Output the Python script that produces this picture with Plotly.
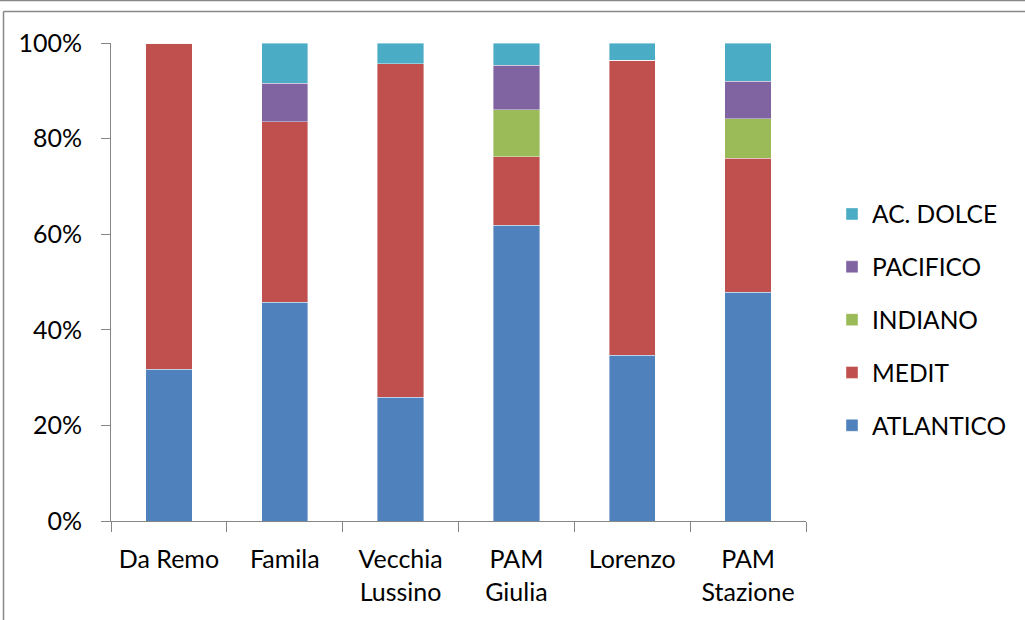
import plotly.graph_objects as go

categories = ["Da Remo", "Famila", "Vecchia<br>Lussino", "PAM<br>Giulia", "Lorenzo", "PAM<br>Stazione"]
atlantico = [31.8, 45.8, 25.9, 61.9, 34.7, 47.9]
medit = [68.2, 37.7, 69.8, 14.3, 61.7, 28.0]
indiano = [0, 0, 0, 9.8, 0, 8.3]
pacifico = [0, 8.1, 0, 9.3, 0, 7.8]
ac_dolce = [0, 8.4, 4.3, 4.7, 3.6, 8.0]

series = [
    ("ATLANTICO", atlantico, "#4F81BD"),
    ("MEDIT", medit, "#C0504D"),
    ("INDIANO", indiano, "#9BBB59"),
    ("PACIFICO", pacifico, "#8064A2"),
    ("AC. DOLCE", ac_dolce, "#4BACC6"),
]

W, H = 1025, 620
L, R, T, B = 111, 219, 43, 99
pw, ph = W - L - R, H - T - B

fig = go.Figure()
n = len(series)
for i, (name, vals, col) in enumerate(series):
    fig.add_trace(go.Bar(
        x=categories, y=vals, name=name,
        marker=dict(color=col, line=dict(width=0.8, color="rgba(255,255,255,0.5)")),
        legendgroup=name, legendrank=n - i,
    ))

fig.update_layout(
    barmode="stack",
    bargap=0.6,
    width=W, height=H,
    margin=dict(l=L, r=R, t=T, b=B, autoexpand=False),
    paper_bgcolor="white", plot_bgcolor="white",
    font=dict(family="Lato, Open Sans, sans-serif", size=25, color="black"),
    showlegend=True,
    legend=dict(
        traceorder="grouped", tracegroupgap=18,
        x=(832 - L) / pw, xanchor="left",
        y=(H - B - 320) / ph, yanchor="middle",
        font=dict(size=24.5), itemwidth=30,
        bgcolor="rgba(0,0,0,0)",
    ),
    xaxis=dict(
        type="category", showgrid=False, showline=True, linecolor="#868686", linewidth=1,
        ticks="outside", tickson="boundaries", ticklen=10, tickcolor="#868686",
        ticklabelstandoff=16,
    ),
    yaxis=dict(
        range=[0, 100], dtick=20, ticksuffix="%", showgrid=False, zeroline=False,
        showline=True, linecolor="#868686", linewidth=1,
        ticks="outside", ticklen=9, tickcolor="#868686", ticklabelstandoff=14,
    ),
    shapes=[
        dict(type="line", xref="paper", yref="paper",
             x0=(3.5 - L) / pw, x1=(W + 10 - L) / pw,
             y0=(H - B - 11.5) / ph, y1=(H - B - 11.5) / ph,
             line=dict(color="#888888", width=1.5)),
        dict(type="line", xref="paper", yref="paper",
             x0=(3.5 - L) / pw, x1=(3.5 - L) / pw,
             y0=(H - B - 11.5) / ph, y1=(H - B - H - 10) / ph,
             line=dict(color="#888888", width=1.5)),
        dict(type="line", xref="paper", yref="paper",
             x0=(-10 - L) / pw, x1=(W + 10 - L) / pw,
             y0=(H - B - 0.5) / ph, y1=(H - B - 0.5) / ph,
             line=dict(color="#888888", width=1.5)),
    ],
)

fig.write_html("out.html", config={"displayModeBar": False},
               post_script="document.body.style.margin='0';")
